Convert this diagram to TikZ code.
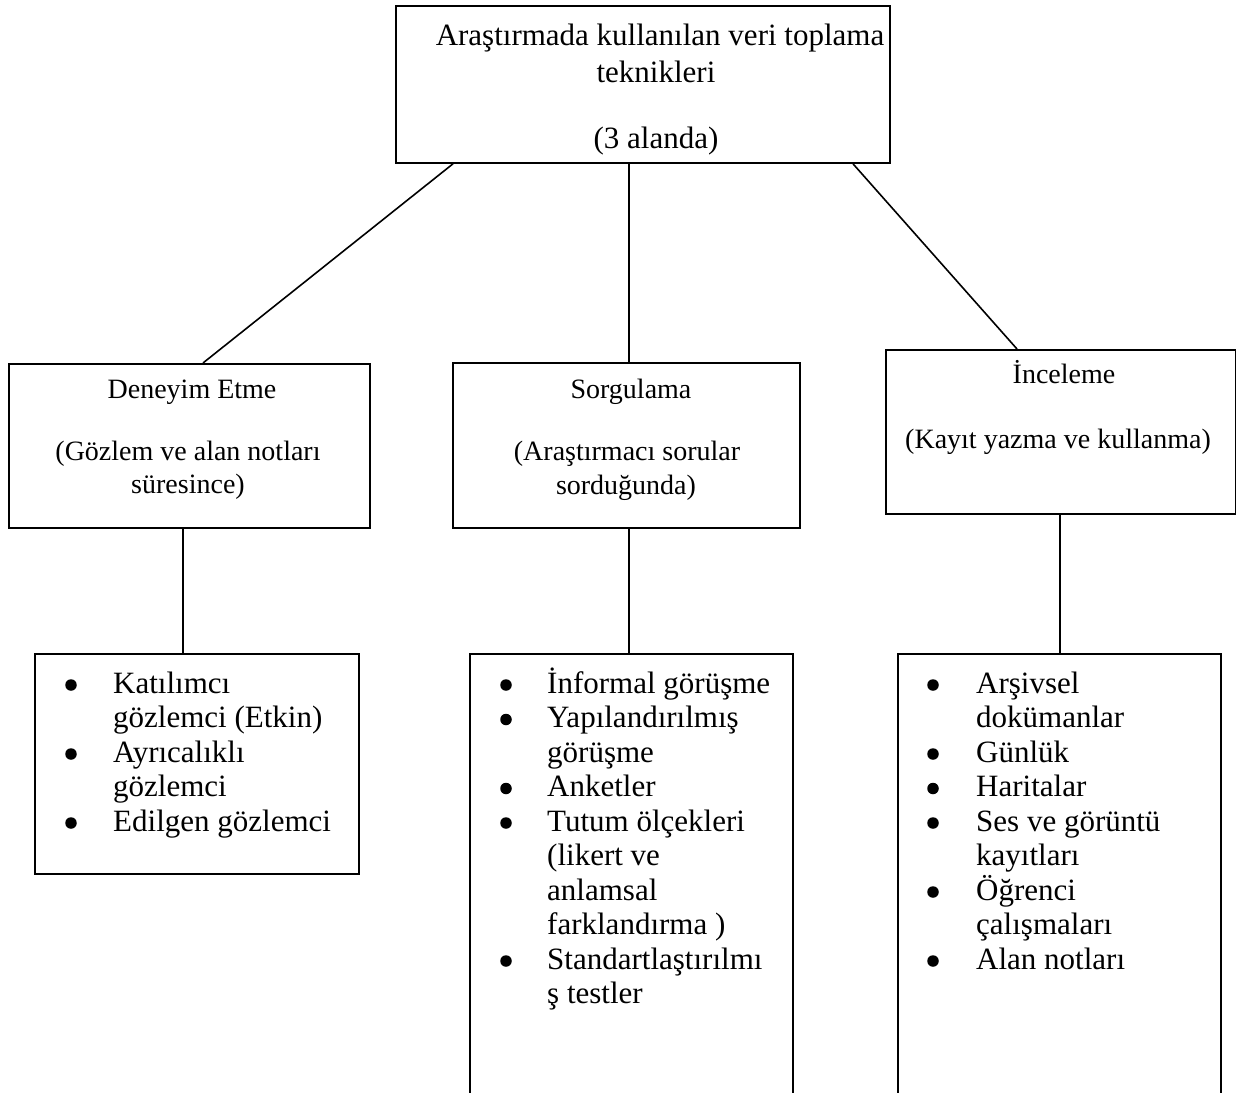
\documentclass[tikz,border=0pt]{standalone}
\usepackage{fontspec}
\setmainfont{Liberation Serif}
\begin{document}
\begin{tikzpicture}[x=1pt,y=-1pt,
  box/.style={draw, line width=1.8pt, inner sep=0pt, anchor=north west},
  conn/.style={line width=1.6pt},
  tl/.style={anchor=base, inner sep=0pt, font=\fontsize{31}{36}\selectfont},
  ml/.style={anchor=base, inner sep=0pt, font=\fontsize{28}{32}\selectfont},
  li/.style={anchor=base west, inner sep=0pt, font=\fontsize{31}{35}\selectfont},
  bul/.style={circle, fill, inner sep=0pt, minimum size=11.5pt}]
\useasboundingbox (0,0) rectangle (1236,1092);
% boxes
\node[box, minimum width=494pt, minimum height=157pt] (top) at (395,5) {};
\node[box, minimum width=361pt, minimum height=164pt] (deney) at (8,363) {};
\node[box, minimum width=347pt, minimum height=165pt] (sorgu) at (452,362) {};
\node[box, minimum width=350pt, minimum height=164pt] (incele) at (885,349) {};
\node[box, minimum width=324pt, minimum height=220pt] (bl) at (34,653) {};
\node[box, minimum width=323pt, minimum height=470pt] (bm) at (469,653) {};
\node[box, minimum width=323pt, minimum height=470pt] (br) at (897,653) {};
% connectors
\draw[conn] ([xshift=58pt]top.south west) -- ([xshift=195pt]deney.north west);
\draw[conn] ([xshift=234pt]top.south west) -- ([xshift=177pt]sorgu.north west);
\draw[conn] ([xshift=458pt]top.south west) -- ([xshift=132pt]incele.north west);
\draw[conn] ([xshift=175pt]deney.south west) -- ([xshift=149pt]bl.north west);
\draw[conn] ([xshift=177pt]sorgu.south west) -- ([xshift=160pt]bm.north west);
\draw[conn] ([xshift=175pt]incele.south west) -- ([xshift=163pt]br.north west);
% top text
\node[tl] (t1) at (660,45) {Araştırmada kullanılan veri toplama};
\node[tl] (t2) at (656,82) {teknikleri};
\node[tl] (t3) at (656,148) {(3 alanda)};
% middle texts
\node[ml] (d1) at (192,398) {Deneyim Etme};
\node[ml] (d2) at (188,460) {(Gözlem ve alan notları};
\node[ml] (d3) at (188,493) {süresince)};
\node[ml] (s1) at (631,398) {Sorgulama};
\node[ml] (s2) at (627,460) {(Araştırmacı sorular};
\node[ml] (s3) at (626,494) {sorduğunda)};
\node[ml] (i1) at (1064,383) {İnceleme};
\node[ml] (i2) at (1058,448) {(Kayıt yazma ve kullanma)};
% left list
\node[bul] (lb1) at (71,685) {};
\node[bul] (lb2) at (71,754) {};
\node[bul] (lb3) at (71,823) {};
\node[li] (l1) at (113,693) {Katılımcı};
\node[li] (l2) at (113,727.5) {gözlemci (Etkin)};
\node[li] (l3) at (113,762) {Ayrıcalıklı};
\node[li] (l4) at (113,796.5) {gözlemci};
\node[li] (l5) at (113,831) {Edilgen gözlemci};
% middle list
\node[bul] (mb1) at (506,685) {};
\node[bul] (mb2) at (506,719.5) {};
\node[bul] (mb3) at (506,788.5) {};
\node[bul] (mb4) at (506,823) {};
\node[bul] (mb5) at (506,961) {};
\node[li] (m1) at (547,693) {İnformal görüşme};
\node[li] (m2) at (547,727.5) {Yapılandırılmış};
\node[li] (m3) at (547,762) {görüşme};
\node[li] (m4) at (547,796.5) {Anketler};
\node[li] (m5) at (547,831) {Tutum ölçekleri};
\node[li] (m6) at (547,865.5) {(likert ve};
\node[li] (m7) at (547,900) {anlamsal};
\node[li] (m8) at (547,934.5) {farklandırma )};
\node[li] (m9) at (547,969) {Standartlaştırılmı};
\node[li] (m10) at (547,1003.5) {ş testler};
% right list
\node[bul] (rb1) at (933,685) {};
\node[bul] (rb2) at (933,754) {};
\node[bul] (rb3) at (933,788.5) {};
\node[bul] (rb4) at (933,823) {};
\node[bul] (rb5) at (933,892) {};
\node[bul] (rb6) at (933,961) {};
\node[li] (r1) at (976,693) {Arşivsel};
\node[li] (r2) at (976,727.5) {dokümanlar};
\node[li] (r3) at (976,762) {Günlük};
\node[li] (r4) at (976,796.5) {Haritalar};
\node[li] (r5) at (976,831) {Ses ve görüntü};
\node[li] (r6) at (976,865.5) {kayıtları};
\node[li] (r7) at (976,900) {Öğrenci};
\node[li] (r8) at (976,934.5) {çalışmaları};
\node[li] (r9) at (976,969) {Alan notları};
\end{tikzpicture}
\end{document}
